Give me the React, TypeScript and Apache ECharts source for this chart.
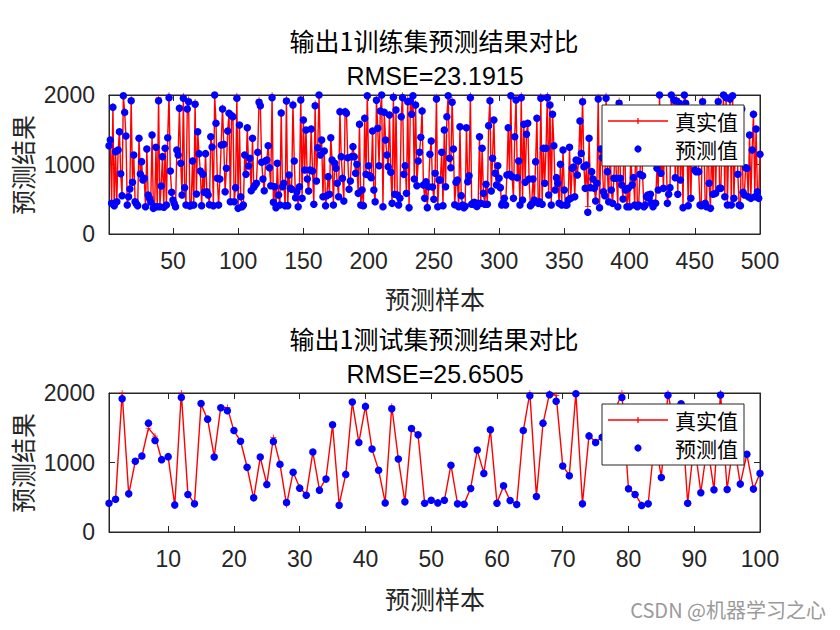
import { useEffect, useRef } from "react";
import * as echarts from "echarts";

// ---------- data ----------
const trainTicks = [50, 100, 150, 200, 250, 300, 350, 400, 450, 500];
const testTicks = [10, 20, 30, 40, 50, 60, 70, 80, 90, 100];
const yTickStep = 1000;

const trainPred = [
  1271,1352,441,1822,408,1185,465,1209,1472,868,552,1990,1750,1410,417,537,647,1918,743,1137,
  465,430,408,1376,863,1041,777,801,393,1223,561,513,460,1424,369,395,1247,393,1918,393,
  690,1113,384,1233,417,1386,1962,906,600,489,440,393,1209,1137,1808,1017,561,1952,667,417,
  1798,1904,403,417,1050,417,1866,576,1472,1156,906,408,858,600,1156,609,561,420,1400,1252,
  408,2000,1592,801,
  417,791,1281,1798,1290,609,945,1482,1736,465,1703,1688,465,667,1952,369,1568,537,393,417,
  1137,858,1530,978,1089,623,1376,671,705,729,1175,1894,1846,1031,791,623,1050,1065,1271,954,
  695,1962,456,681,379,1017,561,417,1741,681,729,408,1914,408,849,657,643,1856,1050,523,
  609,393,681,1928,513,1640,921,1496,791,619,921,1511,906,427,1846,763,1242,2000,1137,1352,
  537,1194,408,552,
  825,571,1386,1065,417,1017,945,729,537,1760,1113,801,475,1760,1736,1098,643,763,1113,1257,
  1113,873,1002,585,1578,417,633,408,1664,858,1990,983,839,811,1482,633,465,1923,1520,983,
  1770,2000,393,1750,1352,1137,969,1712,887,441,1966,571,1784,561,417,513,1688,1962,858,983,
  585,1904,379,1914,1722,1990,791,1856,695,1050,1175,1391,1770,705,513,753,379,681,1146,1338,
  676,499,873,1942,393,777,
  777,1175,408,1496,681,1688,1990,1089,954,1894,1223,420,743,777,393,1544,552,417,379,400,
  1530,753,839,1962,427,441,456,417,395,441,1400,441,1233,585,427,715,427,1559,1918,619,
  1089,1640,873,705,983,801,667,417,450,513,417,849,1530,858,1990,825,513,1400,1928,811,
  1050,417,1962,489,1578,743,1434,1592,791,408,430,791,489,1041,1664,441,465,1952,427,1233,
  729,
  1233,1962,561,1856,417,1722,1271,633,811,729,441,1002,417,1209,633,417,417,489,1247,513,
  945,964,537,1065,849,1050,1626,1160,1904,969,657,993,312,1376,667,897,791,657,475,729,
  1942,379,1223,1098,609,552,1952,897,465,1500,633,441,801,1300,801,393,1880,801,705,504,
  1600,633,393,657,393,1200,705,811,417,1750,393,417,858,1400,839,393,417,537,561,513,
  571,441,393,441,
  441,945,633,2000,873,1100,657,1500,1200,441,571,667,2000,1600,1928,811,1914,571,1880,777,
  1400,379,2000,1880,1250,408,1600,513,1300,1700,921,897,1550,897,417,408,1904,1300,441,393,
  1650,729,369,1350,571,1750,585,1500,1904,657,657,1450,2000,537,1962,417,1250,1942,417,1990,
  513,1150,1700,858,417,408,1800,600,561,954,945,537,1424,513,1209,1722,537,1511,609,513,
  1146,
];

const trainTrue = [
  1280,1340,452,1840,400,1190,470,1200,1480,860,560,2000,1760,1400,410,530,650,1950,750,1130,
  470,425,400,1380,870,1030,780,810,390,1230,560,520,455,1430,375,400,1240,390,1960,400,
  700,1120,390,1240,410,1390,1995,900,610,480,445,400,1200,1150,1820,1010,565,1985,660,420,
  1810,1940,410,420,1060,410,1900,580,1480,1150,900,415,850,610,1160,600,570,415,1410,1250,
  400,2000,1600,810,
  410,800,1290,1820,1280,600,950,1490,1750,470,1710,1700,460,670,1990,380,1560,540,400,410,
  1140,850,1540,980,1080,630,1380,680,700,735,1170,1930,1850,1040,790,620,1045,1070,1280,950,
  700,2000,450,690,385,1020,555,420,1760,680,730,400,1950,415,855,650,640,1880,1055,520,
  610,400,690,1970,510,1650,930,1500,790,620,915,1520,910,420,1880,760,1250,2000,1140,1360,
  540,1200,410,560,
  830,575,1390,1070,420,1020,950,735,540,1780,1120,805,470,1780,1750,1100,640,770,1110,1260,
  1115,880,1000,590,1590,415,640,410,1680,860,2000,990,840,815,1490,630,470,1960,1525,985,
  1790,2000,400,1760,1360,1140,970,1725,890,445,2000,575,1800,560,420,515,1700,1995,860,990,
  590,1945,385,1950,1735,2000,795,1880,700,1055,1180,1395,1790,710,515,760,385,685,1150,1345,
  680,505,875,1975,400,780,
  780,1180,410,1500,685,1700,2000,1095,960,1930,1230,425,745,780,400,1550,555,420,385,405,
  1540,760,840,1995,430,445,460,420,400,445,1410,445,1240,590,430,720,430,1570,1950,620,
  1095,1650,875,710,990,805,670,420,455,515,420,850,1540,860,2000,830,515,1410,1965,815,
  1055,420,1995,490,1590,745,1440,1600,795,410,435,795,490,1045,1675,445,470,1985,430,1240,
  735,
  1240,1995,565,1880,420,1735,1275,635,815,735,445,1005,420,1215,640,420,420,495,1250,515,
  950,970,540,1070,855,1055,1640,1165,1940,975,660,995,393,1380,670,900,795,660,480,735,
  1975,385,1230,1100,615,555,1990,900,470,1505,640,445,805,1305,805,400,1920,805,710,510,
  1610,640,400,660,400,1205,710,815,420,1760,400,420,860,1405,845,400,420,540,565,515,
  575,445,400,445,
  445,950,640,2000,875,1105,660,1505,1205,445,575,670,2000,1610,1965,815,1950,575,1915,780,
  1405,385,2000,1915,1255,410,1610,515,1305,1710,925,900,1555,900,420,410,1940,1305,445,400,
  1660,735,375,1355,575,1760,590,1505,1940,660,660,1455,2000,540,1995,420,1255,1975,420,2000,
  515,1155,1710,860,420,410,1810,605,565,960,950,540,1430,515,1215,1735,540,1520,615,515,
  1150,
];

const testPred = [
  414,472,1918,549,1017,1094,1566,1316,1041,1084,
  390,1937,540,405,1850,1624,1080,1788,1745,1460,
  1306,930,492,1080,684,1301,973,424,858,631,
  530,1152,602,761,1542,386,829,1870,1287,1807,
  1195,887,419,1773,1051,434,1489,1398,414,458,
  419,458,959,405,400,626,1181,843,1470,414,
  665,453,395,1460,1961,511,1566,1976,1880,949,
  810,1990,405,1383,1287,1364,1420,1750,1937,622,
  540,381,405,1350,785,1966,1500,1846,414,1300,
  564,1250,607,1971,612,1300,689,1118,617,843,
];

const testTrue = [
  420,470,2000,540,1020,1090,1494,1380,1040,1080,
  380,2000,545,410,1840,1620,1085,1800,1790,1455,
  1310,935,480,1075,690,1360,980,390,860,640,
  535,1150,610,770,1540,395,830,1865,1290,1810,
  1190,890,425,1810,1050,430,1480,1400,420,455,
  425,450,965,410,405,630,1175,850,1465,420,
  660,450,400,1455,2000,515,1560,1995,1966,955,
  815,2000,410,1390,1290,1370,1425,1760,2000,620,
  545,395,410,1345,790,2000,1505,1850,420,1295,
  570,1255,610,2000,615,1305,690,1120,620,845,
];

// ---------- styling ----------
const NUM_FONT = "Liberation Sans, Arial, sans-serif";
const CJK_FONT = "Noto Sans CJK SC, sans-serif";
const AX = "#262626";
const plusPath =
  "path://M-1,-0.12L1,-0.12L1,0.12L-1,0.12Z M-0.12,-1L0.12,-1L0.12,1L-0.12,1Z";

const GRID_LEFT = 109;
const GRID_W = 651;
const GRID_H = 139;
const TOPS = [95, 393];

function toXY(arr: number[]) {
  return arr.map((v, i) => [i + 1, v]);
}

function xAxesFor(grid: number, max: number, ticks: number[]) {
  const common = {
    gridIndex: grid,
    type: "value",
    min: 1,
    max,
    splitLine: { show: false },
    axisLine: { show: true, onZero: false, lineStyle: { color: AX, width: 1 } },
    axisTick: {
      show: true,
      inside: true,
      length: 6,
      customValues: ticks,
      lineStyle: { color: AX, width: 1 },
    },
  };
  return [
    {
      ...common,
      position: "bottom",
      axisLabel: {
        show: true,
        customValues: ticks,
        formatter: (v: number) => String(v),
        fontSize: 23,
        fontFamily: NUM_FONT,
        color: AX,
        margin: 15,
      },
    },
    { ...common, position: "top", axisLabel: { show: false } },
  ];
}

function yAxesFor(grid: number) {
  const common = {
    gridIndex: grid,
    type: "value",
    min: 0,
    max: 2000,
    interval: yTickStep,
    splitLine: { show: false },
    axisLine: { show: true, onZero: false, lineStyle: { color: AX, width: 1 } },
    axisTick: { show: true, inside: true, length: 6, lineStyle: { color: AX, width: 1 } },
  };
  return [
    {
      ...common,
      position: "left",
      axisLabel: {
        show: true,
        formatter: (v: number) => String(v),
        fontSize: 23,
        fontFamily: NUM_FONT,
        color: AX,
        margin: 14,
      },
    },
    { ...common, position: "right", axisLabel: { show: false } },
  ];
}

function legendGraphics(top: number) {
  const r1 = top + 16;
  const r2 = top + 44;
  return [
    {
      type: "rect",
      z: 100,
      shape: { x: 602, y: top, width: 142, height: 61 },
      style: { fill: "#fff", stroke: AX, lineWidth: 1 },
    },
    {
      type: "line",
      z: 101,
      shape: { x1: 608, y1: r1, x2: 668, y2: r1 },
      style: { stroke: "#ff0000", lineWidth: 1.3 },
    },
    {
      type: "line",
      z: 101,
      shape: { x1: 638, y1: r1 - 3, x2: 638, y2: r1 + 3 },
      style: { stroke: "#ff0000", lineWidth: 1.3 },
    },
    {
      type: "text",
      z: 101,
      x: 675,
      y: r1,
      style: {
        text: "真实值",
        fontSize: 21,
        fontFamily: CJK_FONT,
        fill: "#000",
        verticalAlign: "middle",
        align: "left",
      },
    },
    {
      type: "circle",
      z: 101,
      shape: { cx: 638, cy: r2, r: 3.6 },
      style: { fill: "#0000ff" },
    },
    {
      type: "text",
      z: 101,
      x: 675,
      y: r2,
      style: {
        text: "预测值",
        fontSize: 21,
        fontFamily: CJK_FONT,
        fill: "#000",
        verticalAlign: "middle",
        align: "left",
      },
    },
  ];
}

function textAt(text: string, x: number, y: number, size: number, font: string, extra: any = {}) {
  return {
    type: "text",
    z: 100,
    x,
    y,
    ...extra,
    style: {
      text,
      fontSize: size,
      fontFamily: font,
      fill: extra.fill || "#000",
      align: "center",
      verticalAlign: "middle",
    },
  };
}

export default function App() {
  const ref = useRef<HTMLDivElement>(null);

  useEffect(() => {
    const chart = echarts.init(ref.current!, null, { renderer: "svg" });
    const option: any = {
      animation: false,
      backgroundColor: "#fff",
      grid: TOPS.map((t) => ({
        left: GRID_LEFT,
        top: t,
        width: GRID_W,
        height: GRID_H,
        show: true,
        borderColor: AX,
        borderWidth: 1,
        containLabel: false,
      })),
      xAxis: [...xAxesFor(0, trainPred.length, trainTicks), ...xAxesFor(1, testPred.length, testTicks)],
      yAxis: [...yAxesFor(0), ...yAxesFor(1)],
      series: [
        {
          name: "真实值",
          type: "line",
          xAxisIndex: 0,
          yAxisIndex: 0,
          data: toXY(trainTrue),
          symbol: plusPath,
          symbolSize: 6,
          showSymbol: true,
          showAllSymbol: true,
          lineStyle: { color: "#ff0000", width: 1.4 },
          itemStyle: { color: "#ff0000" },
          z: 2,
        },
        {
          name: "预测值",
          type: "scatter",
          xAxisIndex: 0,
          yAxisIndex: 0,
          data: toXY(trainPred),
          symbol: "circle",
          symbolSize: 7.5,
          itemStyle: { color: "#0000ff", opacity: 1 },
          z: 3,
        },
        {
          name: "真实值",
          type: "line",
          xAxisIndex: 2,
          yAxisIndex: 2,
          data: toXY(testTrue),
          symbol: plusPath,
          symbolSize: 6,
          showSymbol: true,
          showAllSymbol: true,
          lineStyle: { color: "#ff0000", width: 1.4 },
          itemStyle: { color: "#ff0000" },
          z: 2,
        },
        {
          name: "预测值",
          type: "scatter",
          xAxisIndex: 2,
          yAxisIndex: 2,
          data: toXY(testPred),
          symbol: "circle",
          symbolSize: 7.5,
          itemStyle: { color: "#0000ff", opacity: 1 },
          z: 3,
        },
      ],
      graphic: [
        textAt("输出1训练集预测结果对比", 434, 40, 25, CJK_FONT),
        textAt("RMSE=23.1915", 435, 76, 25, NUM_FONT),
        textAt("输出1测试集预测结果对比", 434, 338, 25, CJK_FONT),
        textAt("RMSE=25.6505", 435, 374, 25, NUM_FONT),
        textAt("预测样本", 435, 298, 25, CJK_FONT, { fill: AX }),
        textAt("预测样本", 435, 598, 25, CJK_FONT, { fill: AX }),
        textAt("预测结果", 22, 165, 25, CJK_FONT, { rotation: Math.PI / 2, fill: AX }),
        textAt("预测结果", 22, 463, 25, CJK_FONT, { rotation: Math.PI / 2, fill: AX }),
        ...legendGraphics(105),
        ...legendGraphics(404),
        {
          type: "text",
          z: 100,
          x: 826,
          y: 609,
          style: {
            text: "CSDN @机器学习之心",
            fontSize: 20,
            fontFamily: CJK_FONT,
            fill: "#9a9a9a",
            align: "right",
            verticalAlign: "middle",
          },
        },
      ],
    };
    chart.setOption(option);
    return () => chart.dispose();
  }, []);

  return (
    <div
      ref={ref}
      style={{ position: "absolute", left: 0, top: 0, width: 840, height: 630 }}
    />
  );
}
